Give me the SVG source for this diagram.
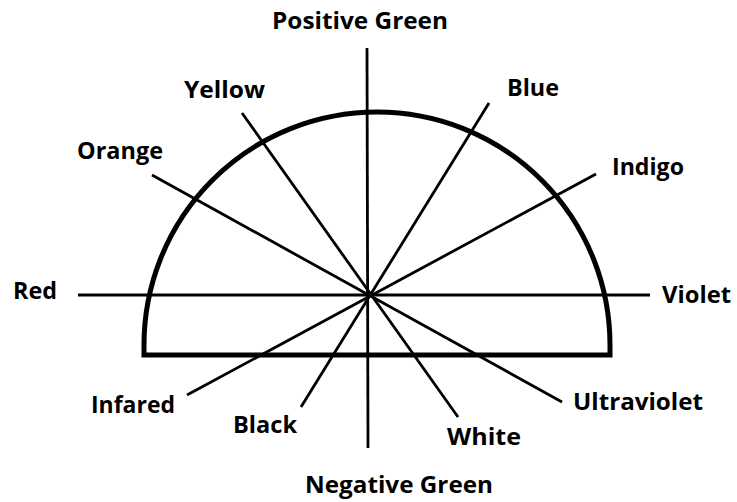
<svg xmlns="http://www.w3.org/2000/svg" width="737" height="502" viewBox="0 0 737 502">
<style>
.lbl{font-family:"Open Sans","Liberation Sans",sans-serif;font-weight:bold;font-size:24px;fill:#000}
.ray{stroke:#000;stroke-width:2.8;fill:none}
.shape{stroke:#000;stroke-width:5;fill:none}
</style>
<rect width="737" height="502" fill="#fff"/>
<g id="semicircle">
<path class="shape" d="M144,355 L144,345 A233,233 0 0 1 610,345 L610,355 Z"/>
</g>
<g id="connectors">
<line class="ray" x1="367" y1="48" x2="368" y2="448"/>
<line class="ray" x1="78" y1="295" x2="650" y2="295"/>
<line class="ray" x1="242" y1="113" x2="458" y2="417"/>
<line class="ray" x1="152" y1="175" x2="562" y2="402"/>
<line class="ray" x1="489" y1="103" x2="301" y2="407"/>
<line class="ray" x1="596" y1="174" x2="187" y2="395"/>
</g>
<g id="positive-green"><text class="lbl" x="272" y="29" textLength="176" lengthAdjust="spacingAndGlyphs">Positive Green</text></g>
<g id="negative-green"><text class="lbl" x="305" y="493" textLength="188" lengthAdjust="spacingAndGlyphs">Negative Green</text></g>
<g id="yellow"><text class="lbl" x="184" y="98" textLength="81" lengthAdjust="spacingAndGlyphs">Yellow</text></g>
<g id="blue"><text class="lbl" x="507" y="96" textLength="52" lengthAdjust="spacingAndGlyphs">Blue</text></g>
<g id="orange"><text class="lbl" x="77" y="159" textLength="86" lengthAdjust="spacingAndGlyphs">Orange</text></g>
<g id="indigo"><text class="lbl" x="612" y="175" textLength="72" lengthAdjust="spacingAndGlyphs">Indigo</text></g>
<g id="red"><text class="lbl" x="13" y="299" textLength="44" lengthAdjust="spacingAndGlyphs">Red</text></g>
<g id="violet"><text class="lbl" x="662" y="303" textLength="69" lengthAdjust="spacingAndGlyphs">Violet</text></g>
<g id="infared"><text class="lbl" x="91" y="413" textLength="84" lengthAdjust="spacingAndGlyphs">Infared</text></g>
<g id="black"><text class="lbl" x="233" y="433" textLength="64" lengthAdjust="spacingAndGlyphs">Black</text></g>
<g id="white"><text class="lbl" x="447" y="445" textLength="74" lengthAdjust="spacingAndGlyphs">White</text></g>
<g id="ultraviolet"><text class="lbl" x="573" y="410" textLength="130" lengthAdjust="spacingAndGlyphs">Ultraviolet</text></g>
</svg>
